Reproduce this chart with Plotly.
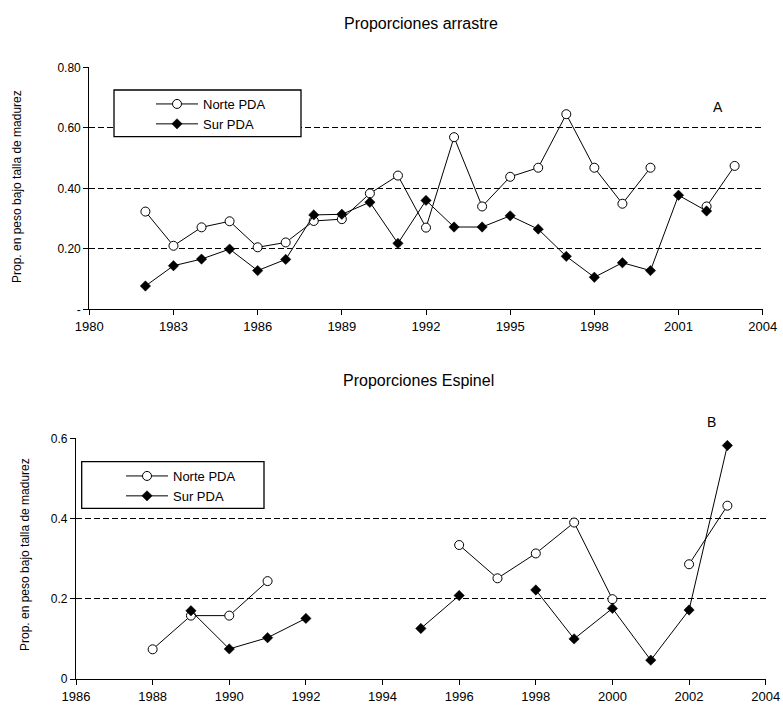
import plotly.graph_objects as go

# ---- Data: Proporciones arrastre (panel A) ----
years_a = list(range(1982, 2004))
norte_a = [0.323, 0.210, 0.271, 0.291, 0.205, 0.221, 0.292, 0.298, 0.383, 0.442,
           0.270, 0.569, 0.340, 0.438, 0.468, 0.645, 0.468, 0.349, 0.468, None,
           0.340, 0.474]
sur_a = [0.077, 0.144, 0.166, 0.199, 0.128, 0.165, 0.312, 0.314, 0.354, 0.218,
         0.360, 0.272, 0.272, 0.309, 0.265, 0.175, 0.106, 0.154, 0.128, 0.377,
         0.325, None]

# ---- Data: Proporciones Espinel (panel B) ----
years_b = list(range(1988, 2004))
norte_b = [0.074, 0.158, 0.158, 0.244, None, None, None, None, 0.334, 0.251,
           0.313, 0.390, 0.199, None, 0.286, 0.432]
sur_b = [None, 0.170, 0.075, 0.103, 0.151, None, None, 0.126, 0.208, None,
         0.222, 0.100, 0.176, 0.047, 0.172, 0.582]

ytick_a_vals = [0, 0.2, 0.4, 0.6, 0.8]
ytick_a_text = ["-", "0.20", "0.40", "0.60", "0.80"]
ytick_b_vals = [0, 0.2, 0.4, 0.6]
ytick_b_text = ["0", "0.2", "0.4", "0.6"]

FONT = "Liberation Sans, Arial, sans-serif"
W, H = 783, 707

norte_marker = dict(symbol="circle", size=9, color="white",
                    line=dict(color="black", width=1))
sur_marker = dict(symbol="diamond", size=8, color="black",
                  line=dict(color="black", width=0.5))
line_style = dict(color="black", width=1)

fig = go.Figure()
fig.add_trace(go.Scatter(x=years_a, y=norte_a, mode="lines+markers", name="Norte PDA",
                         line=line_style, marker=norte_marker, connectgaps=False,
                         xaxis="x", yaxis="y", legend="legend"))
fig.add_trace(go.Scatter(x=years_a, y=sur_a, mode="lines+markers", name="Sur PDA",
                         line=line_style, marker=sur_marker, connectgaps=False,
                         xaxis="x", yaxis="y", legend="legend"))
fig.add_trace(go.Scatter(x=years_b, y=norte_b, mode="lines+markers", name="Norte PDA",
                         line=line_style, marker=norte_marker, connectgaps=False,
                         xaxis="x2", yaxis="y2", legend="legend2"))
fig.add_trace(go.Scatter(x=years_b, y=sur_b, mode="lines+markers", name="Sur PDA",
                         line=line_style, marker=sur_marker, connectgaps=False,
                         xaxis="x2", yaxis="y2", legend="legend2"))

def px_x(p):
    return p / W

def px_y(p):
    return 1 - p / H

axis_common = dict(showline=True, linecolor="black", linewidth=1.3, ticks="outside",
                   tickcolor="black", ticklen=5, tickwidth=1.3, zeroline=False,
                   tickfont=dict(family=FONT, size=13, color="black"), automargin=False)
DASH = "6px,3px"

fig.update_layout(
    width=W, height=H,
    margin=dict(l=0, r=0, t=0, b=0),
    paper_bgcolor="white", plot_bgcolor="white",
    font=dict(family=FONT, color="black"),
    xaxis=dict(domain=[px_x(89.3), px_x(762.7)], range=[1980, 2004], tickmode="array",
               tickvals=list(range(1980, 2005, 3)), showgrid=False, anchor="y",
               **axis_common),
    yaxis=dict(domain=[px_y(309.3), px_y(67.3)], range=[0, 0.8], tickmode="array",
               tickvals=ytick_a_vals, ticktext=ytick_a_text, showgrid=True,
               gridcolor="black", gridwidth=1, griddash=DASH, anchor="x",
               **axis_common),
    xaxis2=dict(domain=[px_x(76), px_x(765.7)], range=[1986, 2004], tickmode="array",
                tickvals=list(range(1986, 2005, 2)), showgrid=False, anchor="y2",
                **axis_common),
    yaxis2=dict(domain=[px_y(679), px_y(438.3)], range=[0, 0.6], tickmode="array",
                tickvals=ytick_b_vals, ticktext=ytick_b_text, showgrid=True,
                gridcolor="black", gridwidth=1, griddash=DASH, anchor="x2",
                **axis_common),
    legend=dict(x=px_x(151), y=px_y(89), xanchor="left", yanchor="top",
                bgcolor="rgba(0,0,0,0)", borderwidth=0, itemwidth=42,
                font=dict(family=FONT, size=13, color="black"), tracegroupgap=0),
    legend2=dict(x=px_x(121), y=px_y(461), xanchor="left", yanchor="top",
                 bgcolor="rgba(0,0,0,0)", borderwidth=0, itemwidth=42,
                 font=dict(family=FONT, size=13, color="black"), tracegroupgap=0),
    showlegend=True,
)

fig.update_yaxes(tickfont=dict(size=12))

# Legend frames (white boxes covering the grid lines)
fig.add_shape(type="rect", xref="paper", yref="paper",
              x0=px_x(114), x1=px_x(301), y0=px_y(136.7), y1=px_y(90),
              line=dict(color="black", width=1.3), fillcolor="white", layer="above")
fig.add_shape(type="rect", xref="paper", yref="paper",
              x0=px_x(81.7), x1=px_x(264), y0=px_y(508.3), y1=px_y(461.7),
              line=dict(color="black", width=1.3), fillcolor="white", layer="above")

# Titles and labels
fig.add_annotation(text="Proporciones arrastre", xref="paper", yref="paper",
                   x=px_x(421), y=px_y(23), showarrow=False, xanchor="center", yanchor="middle",
                   font=dict(family=FONT, size=16, color="black"))
fig.add_annotation(text="Proporciones Espinel", xref="paper", yref="paper",
                   x=px_x(418), y=px_y(380), showarrow=False, xanchor="center", yanchor="middle",
                   font=dict(family=FONT, size=16, color="black"))
fig.add_annotation(text="Prop. en peso bajo talla de madurez", xref="paper", yref="paper",
                   x=px_x(17), y=px_y(187), showarrow=False, textangle=-90,
                   xanchor="center", yanchor="middle",
                   font=dict(family=FONT, size=12, color="black"))
fig.add_annotation(text="Prop. en peso bajo talla de madurez", xref="paper", yref="paper",
                   x=px_x(25), y=px_y(555), showarrow=False, textangle=-90,
                   xanchor="center", yanchor="middle",
                   font=dict(family=FONT, size=12, color="black"))
fig.add_annotation(text="A", xref="paper", yref="paper", x=px_x(725), y=px_y(97),
                   showarrow=False, font=dict(family=FONT, size=14, color="black"))
fig.add_annotation(text="B", xref="paper", yref="paper", x=px_x(718), y=px_y(422),
                   showarrow=False, font=dict(family=FONT, size=14, color="black"))

fig.write_html("out.html")
